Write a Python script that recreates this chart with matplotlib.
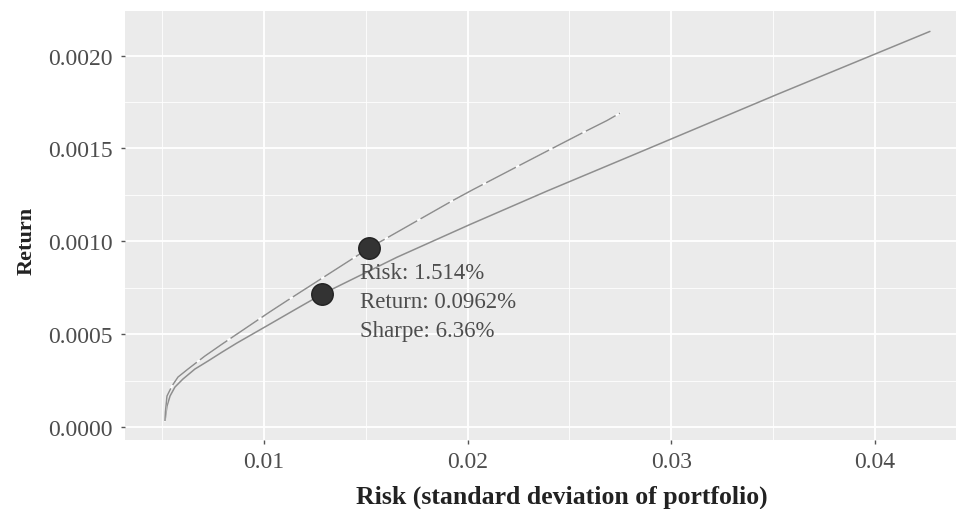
import matplotlib
matplotlib.use("Agg")
import matplotlib.pyplot as plt
from matplotlib.ticker import MultipleLocator, FormatStrFormatter

# frontier (solid line)
risk_a = [0.00514, 0.00524, 0.00539, 0.00563, 0.00602, 0.00661, 0.00725, 0.00794,
          0.00867, 0.01015, 0.01162, 0.01285, 0.01653, 0.02011, 0.02389, 0.02846,
          0.03518, 0.04270]
ret_a = [0.0000323, 0.000113, 0.000167, 0.000215, 0.000258, 0.000312, 0.000355, 0.000403,
         0.000452, 0.000545, 0.000638, 0.000715, 0.000914, 0.001090, 0.001270, 0.001480,
         0.001790, 0.002130]

# frontier (dashed line)
risk_b = [0.00514, 0.00516, 0.00524, 0.00548, 0.00578, 0.00627, 0.00710, 0.00794,
          0.00867, 0.01029, 0.01113, 0.01514, 0.01928, 0.02026, 0.02257, 0.02389,
          0.02566, 0.02684, 0.02748]
ret_b = [0.0000323, 0.0000806, 0.000167, 0.000220, 0.000269, 0.000312, 0.000382, 0.000446,
         0.000500, 0.000620, 0.000680, 0.000962, 0.001220, 0.001278, 0.001410, 0.001485,
         0.001585, 0.001650, 0.001690]

# highlighted portfolios
pt_risk = [0.01285, 0.01514]
pt_ret = [0.000715, 0.000962]
note = "Risk: 1.514%\nReturn: 0.0962%\nSharpe: 6.36%"

serif = ["Liberation Serif", "DejaVu Serif"]
plt.rcParams["font.family"] = serif

fig = plt.figure(figsize=(9.56, 5.10), dpi=100)
# panel runs off the right edge, as in the source image
ax = fig.add_axes([0.1308, 0.1353, 0.8692, 0.8412])
ax.set_facecolor("#EBEBEB")

ax.set_xlim(0.00318, 0.04398)
ax.set_ylim(-0.00007, 0.00224)
ax.xaxis.set_major_locator(MultipleLocator(0.01))
ax.xaxis.set_minor_locator(MultipleLocator(0.005))
ax.yaxis.set_major_locator(MultipleLocator(0.0005))
ax.yaxis.set_minor_locator(MultipleLocator(0.00025))
ax.xaxis.set_major_formatter(FormatStrFormatter("%.2f"))
ax.yaxis.set_major_formatter(FormatStrFormatter("%.4f"))

ax.grid(which="major", color="white", lw=1.3)
ax.grid(which="minor", color="white", lw=0.6)
ax.set_axisbelow(True)
for s in ax.spines.values():
    s.set_visible(False)

ax.tick_params(which="major", length=3, width=1, color="#555555",
               labelsize=17, labelcolor="#4D4D4D")
ax.tick_params(axis="y", pad=6)
ax.tick_params(axis="x", pad=5)
ax.tick_params(which="minor", length=0)

ax.plot(risk_a, ret_a, color="#8E8E8E", lw=1.1, solid_capstyle="round")
ax.plot(risk_b, ret_b, color="white", lw=1.3)
ax.plot(risk_b, ret_b, color="#8E8E8E", lw=1.1, dashes=(22, 2.5))

ax.scatter(pt_risk, pt_ret, s=240, color="#333333", edgecolor="#222222", lw=1, zorder=5)

ax.text(0.01471, 0.000887, note, fontsize=16.5, color="#4D4D4D", va="top", ha="left",
        linespacing=1.5, zorder=6)

ax.set_xlabel("Risk (standard deviation of portfolio)", fontsize=18.5, fontweight="bold",
              color="#222222")
ax.set_ylabel("Return", fontsize=16, fontweight="bold", color="#222222")
ax.xaxis.set_label_coords(0.526, -0.103)
ax.yaxis.set_label_coords(-0.106, 0.466)

fig.savefig("out.png", dpi=100)
